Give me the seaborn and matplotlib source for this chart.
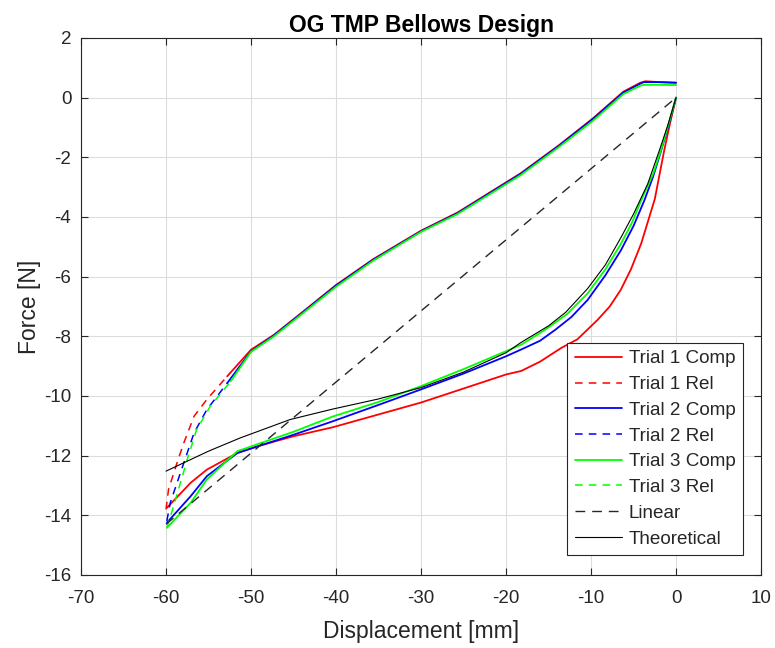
import matplotlib
matplotlib.use("Agg")
import matplotlib.pyplot as plt
import seaborn as sns
import pandas as pd

# ---------------- data ----------------
t1_comp_x = [0, -0.7, -1.4, -2.5, -4.1, -5.3, -6.5, -7.8, -9.2, -11.6, -13.5, -16.0, -18.2, -20, -25, -30, -35, -40.4, -45, -49.3, -51.6, -55.2, -57.1, -59.9]
t1_comp_y = [0, -0.85, -1.78, -3.4, -4.89, -5.75, -6.44, -7.0, -7.44, -8.1, -8.39, -8.85, -9.16, -9.28, -9.75, -10.22, -10.62, -11.05, -11.35, -11.69, -11.91, -12.47, -12.91, -13.75]

t2_comp_x = [0, -0.8, -1.76, -2.7, -3.72, -5.0, -6.47, -8.3, -10.4, -12.3, -14.2, -16.0, -18.2, -20, -25, -30, -35, -40.4, -45, -51.6, -55.2, -57.1, -59.9]
t2_comp_y = [0, -0.85, -1.78, -2.65, -3.44, -4.3, -5.11, -5.95, -6.78, -7.35, -7.78, -8.15, -8.44, -8.67, -9.25, -9.78, -10.3, -10.85, -11.3, -11.91, -12.69, -13.36, -14.25]

t3_comp_x = [0, -0.8, -1.7, -2.7, -4.1, -5.2, -6.47, -8.3, -10.4, -12.8, -15.4, -18.2, -20, -25, -30, -35, -40.4, -45, -51.6, -55.2, -57.1, -59.9]
t3_comp_y = [0, -0.8, -1.7, -2.55, -3.44, -4.2, -4.89, -5.75, -6.56, -7.25, -7.78, -8.28, -8.5, -9.1, -9.67, -10.2, -10.69, -11.2, -11.85, -12.8, -13.58, -14.42]

t1_rel_x = [-60, -59.7, -58.7, -57.9, -56.7, -55.2, -52.8, -50, -47.3, -44, -40, -35.6, -30, -25.7, -20, -18.3, -13.8, -9.8, -6.2, -4.2, -3.6, -2, 0]
t1_rel_y = [-13.8, -13.13, -12.24, -11.57, -10.68, -10.12, -9.34, -8.45, -7.95, -7.2, -6.28, -5.41, -4.46, -3.85, -2.84, -2.54, -1.6, -0.7, 0.2, 0.5, 0.55, 0.52, 0.5]

t2_rel_x = [-59.9, -59.5, -58.7, -57.9, -56.7, -55.2, -52.8, -50, -47.3, -44, -40, -35.6, -30, -25.7, -20, -18.3, -13.8, -9.8, -6.2, -4.2, -3.8, -2, 0]
t2_rel_y = [-14.19, -13.58, -12.91, -12.24, -11.24, -10.46, -9.57, -8.5, -7.97, -7.22, -6.3, -5.43, -4.48, -3.87, -2.86, -2.56, -1.62, -0.72, 0.17, 0.47, 0.52, 0.52, 0.5]

t3_rel_x = [-59.9, -59.1, -58.3, -57.5, -56.4, -54.8, -52.4, -50, -47.3, -44, -40, -35.6, -30, -25.7, -20, -18.3, -13.8, -9.8, -6.2, -4.2, -3.8, -2, 0]
t3_rel_y = [-14.42, -13.69, -12.91, -12.13, -11.13, -10.35, -9.51, -8.52, -8.0, -7.25, -6.34, -5.46, -4.5, -3.9, -2.9, -2.6, -1.66, -0.78, 0.12, 0.4, 0.43, 0.43, 0.42]

linear_x = [-60, 0]
linear_y = [-14.3, 0]

theo_x = [0, -1, -2, -3.33, -5, -6.5, -8.3, -10.4, -13, -15, -18.2, -20, -25, -30, -35, -40.4, -45.4, -51.3, -55, -60]
theo_y = [0, -0.95, -1.8, -2.89, -3.9, -4.7, -5.6, -6.4, -7.2, -7.65, -8.2, -8.55, -9.2, -9.72, -10.1, -10.44, -10.79, -11.41, -11.85, -12.52]

x_ticks = [-70, -60, -50, -40, -30, -20, -10, 0, 10]
y_ticks = [-16, -14, -12, -10, -8, -6, -4, -2, 0, 2]

# ---------------- styling ----------------
sns.set_theme(style="whitegrid")
plt.rcParams["font.family"] = ["Liberation Sans", "DejaVu Sans"]
plt.rcParams["xtick.direction"] = "in"
plt.rcParams["ytick.direction"] = "in"

fig = plt.figure(figsize=(7.75, 6.48), dpi=100, facecolor="white")
ax = fig.add_axes([0.1045, 0.1127, 0.8775, 0.8287])
ax.set_facecolor("white")

RED, BLUE, GREEN = "#ff0000", "#0000ff", "#00ff00"
lw = 1.3

series = [
    (t1_comp_x, t1_comp_y, RED, "-", "Trial 1 Comp"),
    (t1_rel_x, t1_rel_y, RED, "--", "Trial 1 Rel"),
    (t2_comp_x, t2_comp_y, BLUE, "-", "Trial 2 Comp"),
    (t2_rel_x, t2_rel_y, BLUE, "--", "Trial 2 Rel"),
    (t3_comp_x, t3_comp_y, GREEN, "-", "Trial 3 Comp"),
    (t3_rel_x, t3_rel_y, GREEN, "--", "Trial 3 Rel"),
]

handles = []
for xs, ys, col, ls, lab in series:
    df = pd.DataFrame({"x": xs, "y": ys})
    if ls == "-":
        sns.lineplot(data=df, x="x", y="y", sort=False, estimator=None, color=col,
                     lw=lw, ax=ax, label=lab)
        handles.append(ax.lines[-1])
    else:
        # steep start is visibly dashed; noisy remainder renders almost solid
        steep = df[df["x"] <= -52]
        rest = df[df["x"] >= steep["x"].max()]
        sns.lineplot(data=steep, x="x", y="y", sort=False, estimator=None, color=col,
                     lw=1.1, ax=ax, label=lab, dashes=False)
        ln = ax.lines[-1]
        ln.set_dashes((5, 4))
        handles.append(ln)
        sns.lineplot(data=rest, x="x", y="y", sort=False, estimator=None, color=col,
                     lw=lw, ax=ax, dashes=False)

dfl = pd.DataFrame({"x": linear_x, "y": linear_y})
sns.lineplot(data=dfl, x="x", y="y", sort=False, estimator=None, color="#262626",
             lw=1.0, ax=ax, label="Linear")
ax.lines[-1].set_dashes((7, 5))
handles.append(ax.lines[-1])

dft = pd.DataFrame({"x": theo_x, "y": theo_y})
sns.lineplot(data=dft, x="x", y="y", sort=False, estimator=None, color="black",
             lw=0.8, ax=ax, label="Theoretical")
handles.append(ax.lines[-1])

ax.set_xlim(-70, 10)
ax.set_ylim(-16, 2)
ax.set_xticks(x_ticks)
ax.set_yticks(y_ticks)
ax.set_xticklabels([str(v) for v in x_ticks])
ax.set_yticklabels([str(v) for v in y_ticks])
ax.grid(True, color="#dcdcdc", lw=0.8)
for s in ax.spines.values():
    s.set_visible(True)
    s.set_color("#262626")
    s.set_linewidth(0.8)
ax.tick_params(axis="both", which="both", direction="in", length=5, width=0.8,
               color="#262626", labelsize=13.5, labelcolor="#262626",
               top=True, right=True, bottom=True, left=True)
ax.tick_params(axis="x", pad=11)
ax.tick_params(axis="y", pad=7)

ax.set_xlabel("Displacement [mm]", fontsize=16.5, color="#262626", labelpad=9)
ax.set_ylabel("Force [N]", fontsize=16.5, color="#262626", labelpad=2)
ax.set_title("OG TMP Bellows Design", fontsize=16.5, fontweight="bold", color="black", pad=4.5)

leg = ax.legend(handles=handles, labels=[h.get_label() for h in handles],
                loc="lower right", bbox_to_anchor=(0.9735, 0.037), borderaxespad=0,
                fontsize=13.6, frameon=True, fancybox=False, framealpha=1,
                edgecolor="#262626", handlelength=2.5, labelspacing=0.45,
                borderpad=0.4, handletextpad=0.35)
leg.get_frame().set_linewidth(0.8)

fig.savefig("out.png", dpi=100, facecolor="white")
